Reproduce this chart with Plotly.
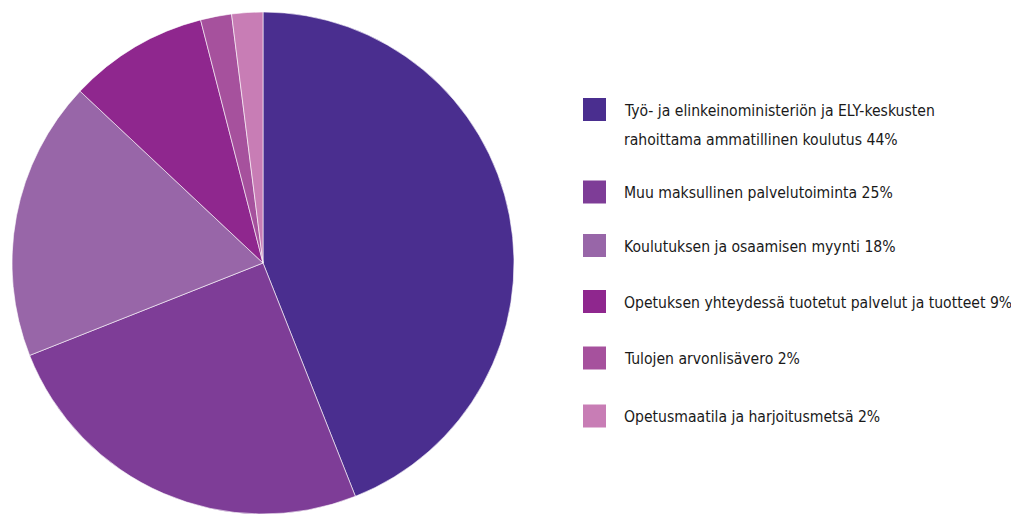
import plotly.graph_objects as go

# Revenue breakdown (shares in percent)
labels = [
    "Työ- ja elinkeinoministeriön ja ELY-keskusten<br>rahoittama ammatillinen koulutus",
    "Muu maksullinen palvelutoiminta",
    "Koulutuksen ja osaamisen myynti",
    "Opetuksen yhteydessä tuotetut palvelut ja tuotteet",
    "Tulojen arvonlisävero",
    "Opetusmaatila ja harjoitusmetsä",
]
shares = [44, 25, 18, 9, 2, 2]
colors = ["#4A2E8F", "#7E3D97", "#9866A8", "#8F278E", "#A6519D", "#C87DB5"]

W, H = 1011, 514
FONT = "DejaVu Sans Condensed, Liberation Sans Narrow, sans-serif"

fig = go.Figure(
    go.Pie(
        labels=labels,
        values=shares,
        marker=dict(colors=colors, line=dict(color="white", width=0.6)),
        sort=False,
        direction="clockwise",
        rotation=0,
        textinfo="none",
        hoverinfo="label+percent",
        showlegend=False,
        domain=dict(x=[10 / W, 516 / W], y=[0, 1 - 12 / H]),
    )
)

# Custom legend: colour swatch + label with share (one text per line)
swatch_centers = [109.5, 192, 245.5, 301.5, 358, 416]
sw = 23
sx0 = 583
tx = 622
line_gap = 30
for lab, val, col, cy in zip(labels, shares, colors, swatch_centers):
    top = cy - sw / 2
    fig.add_shape(
        type="rect", xref="paper", yref="paper",
        x0=sx0 / W, x1=(sx0 + sw) / W,
        y0=1 - (top + sw) / H, y1=1 - top / H,
        fillcolor=col, line=dict(width=0),
    )
    lines = f"{lab} {val}%".split("<br>")
    for i, ln in enumerate(lines):
        fig.add_annotation(
            xref="paper", yref="paper",
            x=tx / W, y=1 - (cy + 1 + i * line_gap) / H,
            xanchor="left", yanchor="middle", align="left",
            text=ln, showarrow=False,
            font=dict(family=FONT, size=15.6, color="#1a1a1a"),
        )

fig.update_layout(
    width=W, height=H,
    margin=dict(l=0, r=0, t=0, b=0),
    paper_bgcolor="white", plot_bgcolor="white",
)

fig.write_html("out.html")
